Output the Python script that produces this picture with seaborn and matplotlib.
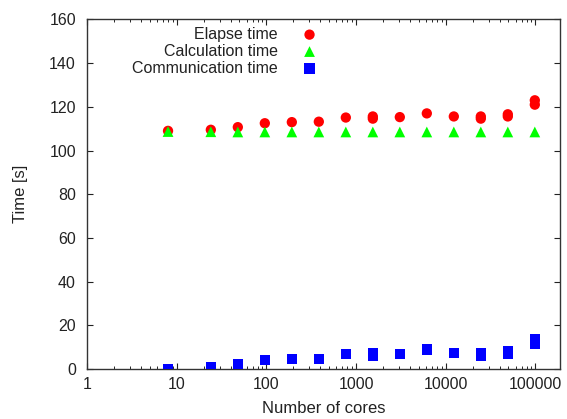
import numpy as np
import pandas as pd
import matplotlib
matplotlib.use("Agg")
import matplotlib.pyplot as plt
import seaborn as sns
from matplotlib.ticker import LogLocator, NullFormatter, FixedLocator

# dados (alguns pontos repetidos no mesmo numero de cores)
cores_elapse = [8, 24, 48, 96, 192, 384, 768, 1536, 1536, 3072, 6144,
                12288, 24576, 24576, 49152, 49152, 98304, 98304]
elapse = [109.0, 109.5, 110.7, 112.5, 113.0, 113.2, 115.1, 114.6, 115.6, 115.3, 117.0,
          115.6, 114.6, 115.6, 115.6, 116.6, 121.0, 123.0]

cores_calc = [8, 24, 48, 96, 192, 384, 768, 1536, 3072, 6144, 12288, 24576, 49152, 98304]
calc = [108.7, 108.6, 108.5, 108.5, 108.5, 108.5, 108.5, 108.5, 108.5, 108.5,
        108.5, 108.5, 108.5, 108.5]

cores_comm = [8, 24, 48, 96, 192, 384, 768, 1536, 1536, 3072, 6144,
              12288, 24576, 24576, 49152, 49152, 98304, 98304]
comm = [0.1, 0.8, 2.0, 4.0, 4.6, 4.7, 6.7, 6.2, 7.2, 6.9, 8.9,
        7.3, 6.2, 7.2, 7.1, 8.1, 11.5, 13.5]

yticks = [0, 20, 40, 60, 80, 100, 120, 140, 160]
xticks = [1, 10, 100, 1000, 10000, 100000]
xticklabels = ["1", "10", "100", "1000", "10000", "100000"]

sns.set_style("ticks")
plt.rcParams['font.family'] = ['Liberation Sans', 'DejaVu Sans']

fig = plt.figure(figsize=(5.67, 4.19), dpi=100)
ax = fig.add_axes([0.1535, 0.1195, 0.835, 0.834])

sns.scatterplot(x=cores_elapse, y=elapse, ax=ax, color='#ff0000', marker='o',
                s=55, edgecolor='none', label='Elapse time', zorder=3)
sns.scatterplot(x=cores_calc, y=calc, ax=ax, color='#00ff00', marker='^',
                s=60, edgecolor='none', label='Calculation time', zorder=4)
sns.scatterplot(x=cores_comm, y=comm, ax=ax, color='#0000ff', marker='s',
                s=55, edgecolor='none', label='Communication time', zorder=3)

ax.set_xscale('log')
ax.set_xlim(1, 1.9e5)
ax.set_ylim(0, 160)
ax.xaxis.set_major_locator(FixedLocator(xticks))
ax.set_xticklabels(xticklabels)
ax.xaxis.set_minor_locator(LogLocator(base=10, subs=np.arange(2, 10)))
ax.xaxis.set_minor_formatter(NullFormatter())
ax.set_yticks(yticks)

ax.tick_params(which='major', direction='in', length=4.5, width=0.8,
               top=True, right=True, labelsize=11.5, colors='#222222')
ax.tick_params(axis='y', which='major', pad=8)
ax.tick_params(axis='x', which='major', pad=6)
ax.tick_params(which='minor', direction='in', length=2.5, width=0.7,
               top=True, right=True)
for sp in ax.spines.values():
    sp.set_linewidth(1.0)
    sp.set_color('#333333')

ax.set_xlabel('Number of cores', fontsize=12, color='#222222', labelpad=6)
ax.set_ylabel('Time [s]', fontsize=12, color='#222222', labelpad=15)

leg = ax.legend(loc='upper left', bbox_to_anchor=(0.071, 1.011), frameon=False,
                markerfirst=False, fontsize=11.5, handletextpad=1.0,
                labelspacing=0.12, borderaxespad=0.3)
for t in leg.get_texts():
    t.set_ha('right')
    t.set_color('#222222')
leg._legend_box.align = 'right'

fig.savefig('out.png', dpi=100)
